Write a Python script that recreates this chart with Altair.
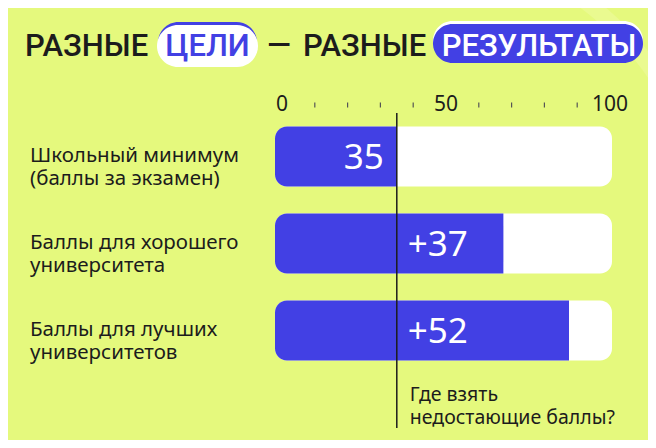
import altair as alt
import pandas as pd

# ---- data ----
categories = [
    "Школьный минимум\n(баллы за экзамен)",
    "Баллы для хорошего\nуниверситета",
    "Баллы для лучших\nуниверситетов",
]
bar_starts = [0, 0, 0]
bar_ends = [35, 67.5, 87.5]
bar_full = [100, 100, 100]
value_labels = ["35", "+37", "+52"]
threshold = [35]
axis_label_values = [0, 50, 100]
axis_label_texts = ["0", "50", "100"]
minor_tick_values = [10, 20, 30, 40, 60, 70, 80, 90]
note_text = "Где взять\nнедостающие баллы?"
title_words = ["РАЗНЫЕ", "ЦЕЛИ", "—", "РАЗНЫЕ", "РЕЗУЛЬТАТЫ"]

BG = "#e5f97d"
DECOR = "#eafa90"
BLUE = "#4240e4"
DARK = "#1c1c1c"
TITLE_FONT = "Roboto"
BODY_FONT = "Noto Sans"

# plot origin on the page (8px page margin + padding)
OX, OY = 282, 113


def px(v):
    return v - OX


def py(v):
    return v - OY


df = pd.DataFrame({
    "cat": categories,
    "start": bar_starts,
    "end": bar_ends,
    "full": bar_full,
    "label": value_labels,
    "idx": [0, 1, 2],
})

xscale = alt.Scale(domain=[0, 100], nice=False, zero=False)
yenc = alt.Y("cat:N", sort=categories,
             scale=alt.Scale(paddingInner=0.31, paddingOuter=0.155), axis=None)

one = pd.DataFrame({"a": [0]})

# faint decorative band in the top-right corner of the background
decor = alt.Chart(one).mark_arc(color=DECOR).encode(
    x=alt.value(px(400)), y=alt.value(py(250)),
    radius=alt.value(318), radius2=alt.value(302),
    theta=alt.value(0.5), theta2=alt.value(1.3))

base = alt.Chart(df)

bg_bars = base.mark_bar(color="white", cornerRadius=12, xOffset=-7, x2Offset=2).encode(
    x=alt.X("start:Q", scale=xscale, axis=None), x2="full:Q", y=yenc)

blue_bars = base.mark_bar(color=BLUE, cornerRadiusTopLeft=12, cornerRadiusBottomLeft=12,
                          xOffset=-7).encode(
    x=alt.X("start:Q", scale=xscale, axis=None), x2="end:Q", y=yenc)

first_label = base.transform_filter("datum.idx == 0").mark_text(
    align="right", baseline="middle", dx=-13, dy=1, fontSize=35, font=BODY_FONT,
    color="white").encode(
    x=alt.X("end:Q", scale=xscale, axis=None), y=yenc, text="label:N")

thr_df = pd.DataFrame({"t": threshold})
inc_labels = base.transform_filter("datum.idx > 0").transform_calculate(
    t=str(threshold[0])).mark_text(
    align="left", baseline="middle", dx=11, dy=1, fontSize=35, font=BODY_FONT,
    color="white").encode(
    x=alt.X("t:Q", scale=xscale, axis=None), y=yenc, text="label:N")

cat_labels = base.mark_text(
    align="left", baseline="middle", fontSize=20.5, font=BODY_FONT, color=DARK,
    lineBreak="\n", lineHeight=23.5, dy=-1).encode(
    x=alt.value(px(30)), y=yenc, text="cat:N")

rule = alt.Chart(thr_df).mark_rule(color=DARK, strokeWidth=1.5).encode(
    x=alt.X("t:Q", scale=xscale, axis=None), y=alt.value(0), y2=alt.value(py(428)))

note = alt.Chart(thr_df).mark_text(
    align="left", baseline="middle", dx=13, fontSize=19.5, font=BODY_FONT, color=DARK,
    lineBreak="\n", lineHeight=23, text=note_text).encode(
    x=alt.X("t:Q", scale=xscale, axis=None), y=alt.value(py(395)))

ax_df = pd.DataFrame({"v": axis_label_values, "t": axis_label_texts})
ax_labels = alt.Chart(ax_df).mark_text(
    baseline="middle", fontSize=21, font=BODY_FONT, color=DARK).encode(
    x=alt.X("v:Q", scale=xscale, axis=None), y=alt.value(py(105)), text="t:N")

tk_df = pd.DataFrame({"v": minor_tick_values})
ax_ticks = alt.Chart(tk_df).mark_rule(color="#555555", strokeWidth=1.2).encode(
    x=alt.X("v:Q", scale=xscale, axis=None), y=alt.value(py(102.5)), y2=alt.value(py(107.5)))


def pill(x1, x2, y1, y2, color):
    return alt.Chart(one).mark_rect(color=color, cornerRadius=(y2 - y1) / 2).encode(
        x=alt.value(px(x1)), x2=alt.value(px(x2)), y=alt.value(py(y1)), y2=alt.value(py(y2)))


def word(text, x, align, color):
    return alt.Chart(one).mark_text(
        text=text, align=align, baseline="alphabetic", fontSize=31, font=TITLE_FONT,
        fontWeight=500, color=color).encode(x=alt.value(px(x)), y=alt.value(py(56)))


title_layers = [
    pill(158, 257, 22, 63, BLUE),
    pill(157, 258, 25, 67, "white"),
    pill(433, 643, 21, 60, "white"),
    pill(433, 643, 24, 63, BLUE),
    word(title_words[0], 25, "left", DARK),
    word(title_words[1], 207.5, "center", BLUE),
    word(title_words[2], 279, "center", DARK),
    word(title_words[3], 303, "left", DARK),
    word(title_words[4], 539, "center", "white"),
]

chart = alt.layer(
    decor, bg_bars, blue_bars, rule, first_label, inc_labels, cat_labels, note,
    ax_labels, ax_ticks, *title_layers
).properties(
    width=328, height=261,
    autosize=alt.AutoSizeParams(type="none"),
    padding={"left": 274, "top": 105, "right": 38, "bottom": 66},
).configure(background=BG).configure_view(stroke=None)

chart.save("out.html", embed_options={"renderer": "svg", "actions": False})
